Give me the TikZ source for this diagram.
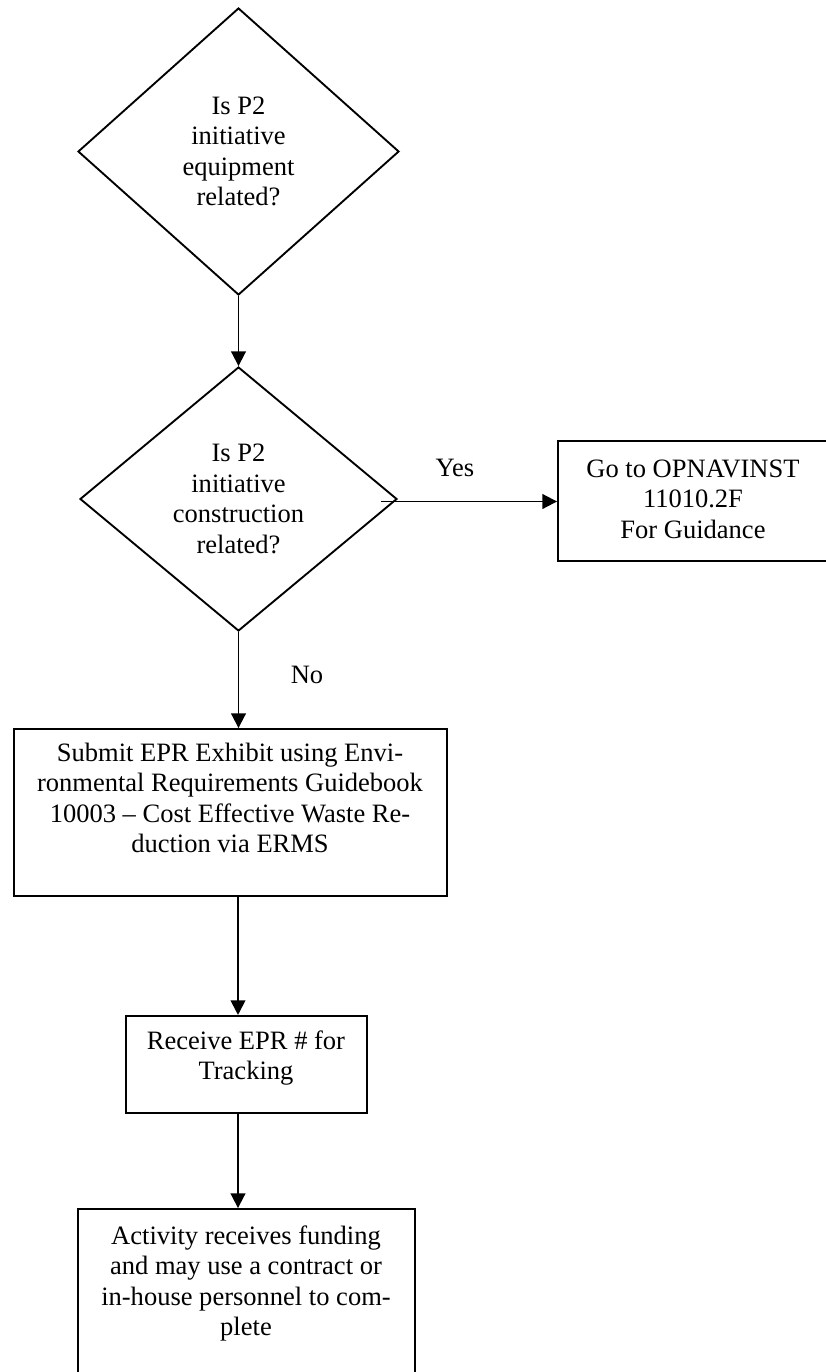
\documentclass[tikz,border=0pt]{standalone}
\usepackage{fontspec}
\setmainfont{Liberation Serif}
\usetikzlibrary{shapes.geometric,arrows.meta}
\newcommand{\pu}{0.4525pt}
\begin{document}
\begin{tikzpicture}[x=\pu, y=-\pu,
  every node/.style={font=\fontsize{12}{13.8}\selectfont},
  decision/.style={draw, line width=0.85pt, shape=diamond, inner sep=0pt, align=center},
  procbox/.style={draw, line width=0.85pt, rectangle, inner sep=0pt},
  txt/.style={align=center, inner sep=0pt},
  flow/.style={draw, line width=0.85pt, -{Triangle[length=6.6pt,width=6.6pt]}}]
\useasboundingbox (0,0) rectangle (825,1372);

% decisions
\node[decision, minimum width=321*\pu, minimum height=287*\pu] (d1) at (238.5,151.5)
  {Is P2\\initiative\\equipment\\related?};
\node[decision, minimum width=317*\pu, minimum height=264*\pu] (d2) at (238.5,499)
  {Is P2\\initiative\\construction\\related?};

% right-hand branch (box runs off the right edge)
\node[procbox, minimum width=292*\pu, minimum height=120*\pu] (go) at (704,501) {};
\node[txt] (gotxt) at (693,499) {Go to OPNAVINST\\11010.2F\\For Guidance};
\coordinate (yesstart) at (381,501.5);
\node[txt] (yes) at (455,468) {Yes};

% process boxes
\node[procbox, minimum width=433*\pu, minimum height=167*\pu] (sub) at (230.3,812.5) {};
\node[txt] (subtxt) at (230,798) {Submit EPR Exhibit using Envi-\\ronmental Requirements Guidebook\\10003 – Cost Effective Waste Re-\\duction via ERMS};
\node[txt] (no) at (307,675) {No};

\node[procbox, minimum width=241*\pu, minimum height=97*\pu] (rec) at (246.2,1064.4) {};
\node[txt] (rectxt) at (246,1058) {Receive EPR \# for\\Tracking};

\node[procbox, minimum width=337*\pu, minimum height=175*\pu] (act) at (246.3,1296.5) {};
\node[txt] (acttxt) at (246,1283.5) {Activity receives funding\\and may use a contract or\\in-house personnel to com-\\plete};

% connectors
\draw[flow] (d1.south) -- (d2.north);
\draw[flow] (yesstart) -- (yesstart -| go.west);
\draw[flow] (d2.south) -- (d2.south |- sub.north);
\draw[flow] (sub.south -| 238,0) -- (rec.north -| 238,0);
\draw[flow] (rec.south -| 238,0) -- (act.north -| 238,0);
\end{tikzpicture}
\end{document}
